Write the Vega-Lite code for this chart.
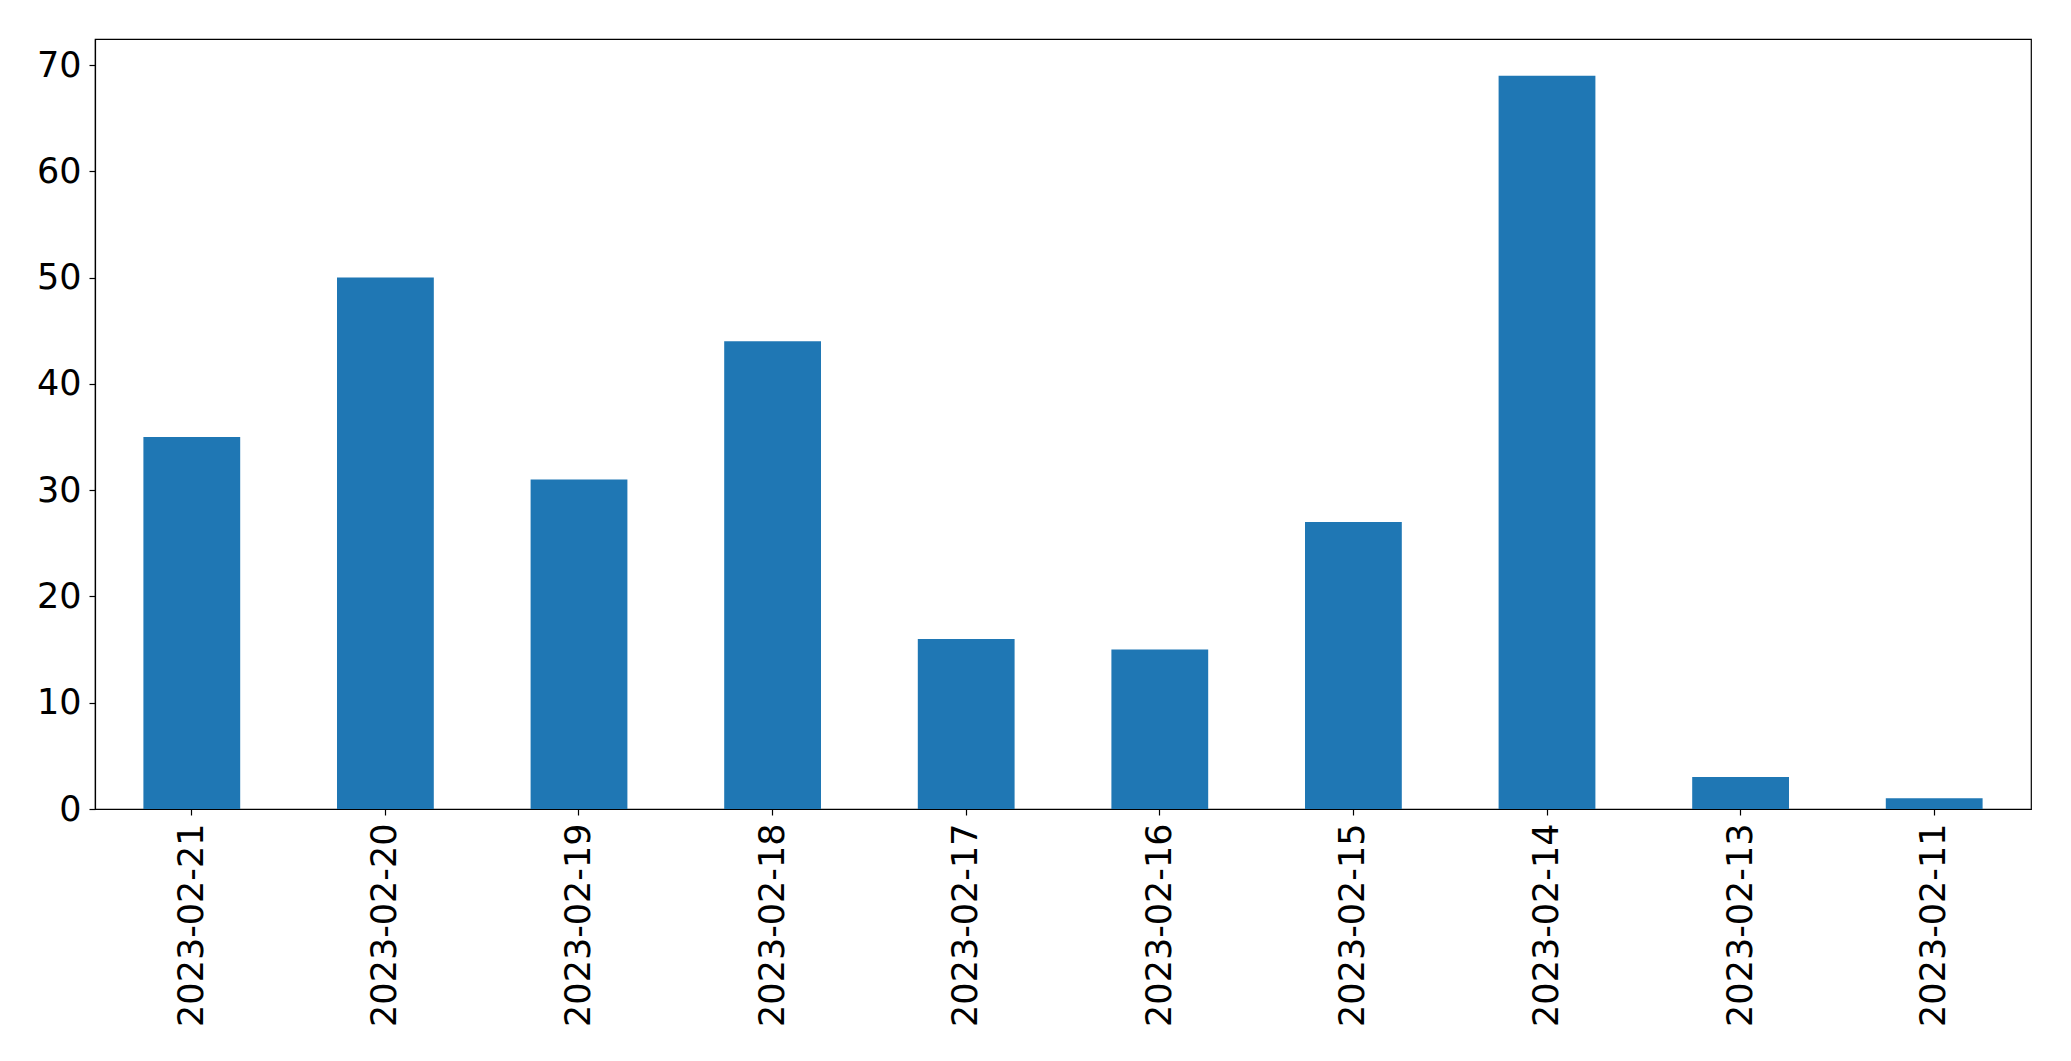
{
  "$schema": "https://vega.github.io/schema/vega-lite/v6.json",
  "autosize": {"type": "none"},
  "padding": {"left": 95, "top": 39, "right": 40, "bottom": 252},
  "width": 1936,
  "height": 770,
  "background": "white",
  "config": {
    "view": {"stroke": "black", "strokeWidth": 1.2},
    "font": "DejaVu Sans",
    "axis": {"grid": false, "domainColor": "black", "tickColor": "black", "labelColor": "black", "labelFont": "DejaVu Sans", "labelFontSize": 35, "labelLimit": 0, "domainWidth": 1.2, "tickWidth": 1.2, "tickSize": 6}
  },
  "data": {"values": [
    {"date": "2023-02-21", "count": 35},
    {"date": "2023-02-20", "count": 50},
    {"date": "2023-02-19", "count": 31},
    {"date": "2023-02-18", "count": 44},
    {"date": "2023-02-17", "count": 16},
    {"date": "2023-02-16", "count": 15},
    {"date": "2023-02-15", "count": 27},
    {"date": "2023-02-14", "count": 69},
    {"date": "2023-02-13", "count": 3},
    {"date": "2023-02-11", "count": 1}
  ]},
  "mark": {"type": "bar", "color": "#1f77b4"},
  "encoding": {
    "x": {"field": "date", "type": "nominal", "sort": null,
      "scale": {"paddingInner": 0.5, "paddingOuter": 0.25},
      "axis": {"title": null, "labelAngle": -90, "labelAlign": "right", "labelBaseline": "middle", "labelPadding": 8}},
    "y": {"field": "count", "type": "quantitative",
      "scale": {"domain": [0, 72.45], "nice": false, "zero": true},
      "axis": {"title": null, "values": [0, 10, 20, 30, 40, 50, 60, 70], "labelPadding": 8}}
  }
}
